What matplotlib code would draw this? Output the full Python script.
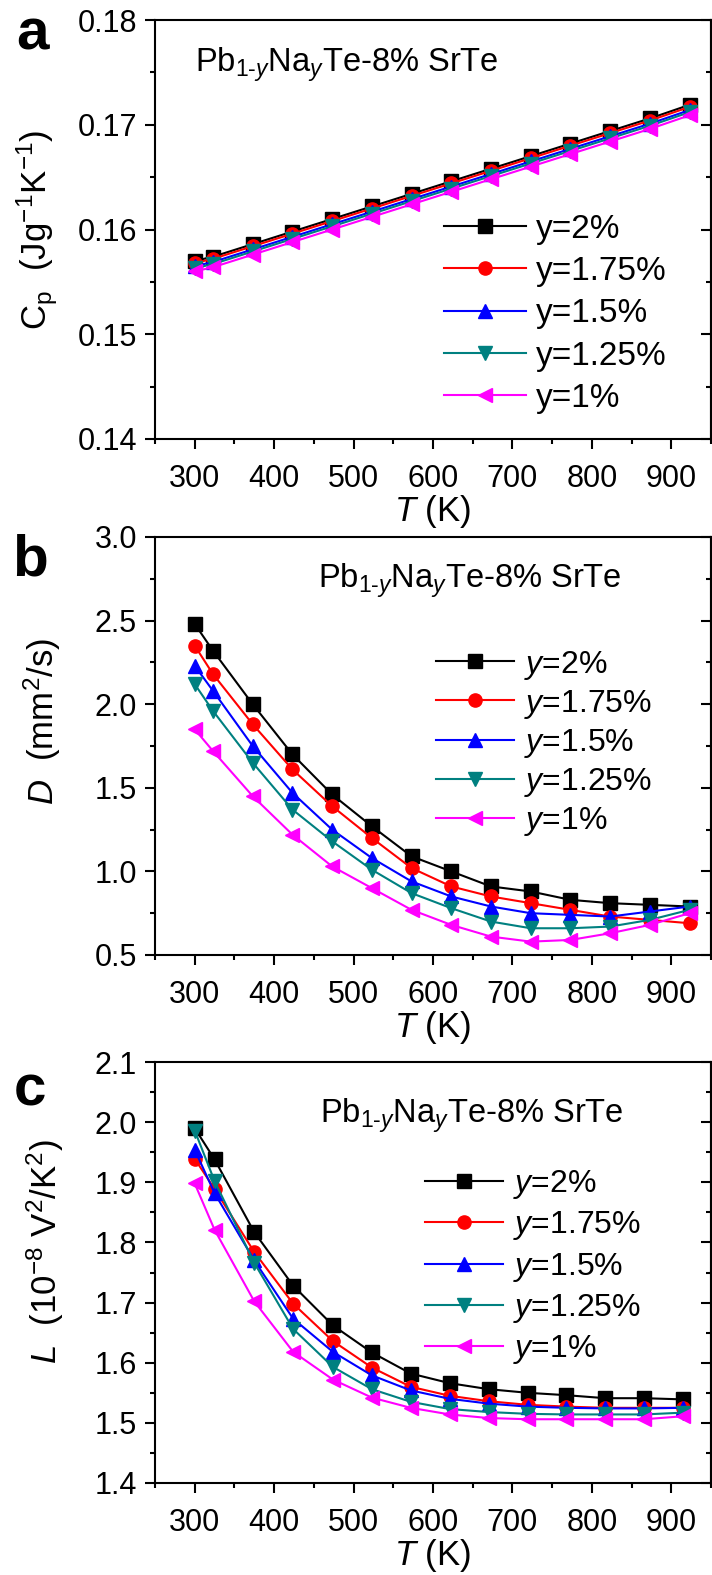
import matplotlib
matplotlib.use('Agg')
import matplotlib.pyplot as plt
from matplotlib.ticker import MultipleLocator

plt.rcParams['font.family'] = ['Liberation Sans', 'DejaVu Sans']
plt.rcParams['mathtext.fontset'] = 'custom'
plt.rcParams['mathtext.rm'] = 'Liberation Sans'
plt.rcParams['mathtext.it'] = 'Liberation Sans:italic'
plt.rcParams['mathtext.bf'] = 'Liberation Sans:bold'

# temperatures (K)
T_ab = [300, 323, 373, 423, 473, 523, 573, 623, 673, 723, 773, 823, 873, 923]
T_c = [300, 325, 375, 424, 474, 523, 572, 621, 670, 719, 768, 817, 866, 915]

labels = ['2%', '1.75%', '1.5%', '1.25%', '1%']
colors = ['black', '#FF0000', '#0000FF', '#008080', '#FF00FF']
markers = ['s', 'o', '^', 'v', '<']

# (a) heat capacity Cp (J/g/K)
cp_2 = [0.1570, 0.1574, 0.1586, 0.1598, 0.1610, 0.1622, 0.1634, 0.1646, 0.1658, 0.1670, 0.1682, 0.1694, 0.1706, 0.1719]
cp_175 = [0.1568, 0.1572, 0.1584, 0.1596, 0.1608, 0.1620, 0.1632, 0.1644, 0.1656, 0.1668, 0.1680, 0.1692, 0.1704, 0.1717]
cp_15 = [0.1565, 0.1569, 0.1581, 0.1593, 0.1605, 0.1617, 0.1629, 0.1641, 0.1653, 0.1665, 0.1677, 0.1689, 0.1701, 0.1714]
cp_125 = [0.1563, 0.1567, 0.1579, 0.1591, 0.1603, 0.1615, 0.1627, 0.1639, 0.1651, 0.1663, 0.1675, 0.1687, 0.1699, 0.1712]
cp_1 = [0.1560, 0.1564, 0.1576, 0.1588, 0.1600, 0.1612, 0.1624, 0.1636, 0.1648, 0.1660, 0.1672, 0.1684, 0.1696, 0.1709]

# (b) thermal diffusivity D (mm2/s)
d_2 = [2.48, 2.32, 2.00, 1.70, 1.46, 1.27, 1.09, 1.00, 0.91, 0.88, 0.83, 0.81, 0.80, 0.79]
d_175 = [2.35, 2.18, 1.88, 1.61, 1.39, 1.20, 1.02, 0.91, 0.85, 0.81, 0.77, 0.73, 0.71, 0.69]
d_15 = [2.23, 2.08, 1.75, 1.47, 1.25, 1.08, 0.94, 0.85, 0.79, 0.75, 0.74, 0.73, 0.76, 0.79]
d_125 = [2.12, 1.96, 1.65, 1.37, 1.18, 1.01, 0.87, 0.78, 0.70, 0.66, 0.66, 0.67, 0.71, 0.77]
d_1 = [1.85, 1.72, 1.45, 1.22, 1.03, 0.90, 0.77, 0.68, 0.61, 0.58, 0.59, 0.63, 0.68, 0.75]

# (c) Lorenz number L (1e-8 V2/K2)
l_2 = [1.990, 1.938, 1.817, 1.728, 1.662, 1.617, 1.582, 1.566, 1.556, 1.550, 1.546, 1.541, 1.541, 1.539]
l_175 = [1.939, 1.889, 1.784, 1.698, 1.636, 1.592, 1.560, 1.545, 1.536, 1.530, 1.527, 1.525, 1.525, 1.525]
l_15 = [1.954, 1.882, 1.770, 1.673, 1.618, 1.579, 1.554, 1.540, 1.532, 1.527, 1.525, 1.524, 1.524, 1.525]
l_125 = [1.986, 1.902, 1.766, 1.656, 1.593, 1.556, 1.535, 1.523, 1.518, 1.515, 1.514, 1.514, 1.514, 1.517]
l_1 = [1.898, 1.821, 1.702, 1.618, 1.572, 1.542, 1.525, 1.514, 1.508, 1.506, 1.506, 1.506, 1.506, 1.511]

W, H = 712, 1575
fig = plt.figure(figsize=(W / 100, H / 100), dpi=100)


def make_axes(top, bottom, left=155, right=711):
    return fig.add_axes([left / W, 1 - bottom / H, (right - left) / W, (bottom - top) / H])


def style_axes(ax, ylim, ymajor, yminor, yfmt):
    ax.set_xlim(250, 950)
    ax.set_ylim(*ylim)
    ax.xaxis.set_major_locator(MultipleLocator(100))
    ax.xaxis.set_minor_locator(MultipleLocator(50))
    ax.yaxis.set_major_locator(MultipleLocator(ymajor))
    ax.yaxis.set_minor_locator(MultipleLocator(yminor))
    ax.yaxis.set_major_formatter(plt.FormatStrFormatter(yfmt))
    ax.set_xticks(range(300, 901, 100))
    for s in ax.spines.values():
        s.set_linewidth(1.5)
    ax.tick_params(which='both', direction='out', width=1.5, labelsize=22, top=False, right=False)
    ax.tick_params(which='major', length=7)
    ax.tick_params(which='minor', length=3.6)
    ax.tick_params(axis='x', pad=11)
    ax.tick_params(axis='y', pad=6)
    # inward ticks on the right side
    sec = ax.secondary_yaxis('right')
    sec.yaxis.set_major_locator(MultipleLocator(ymajor))
    sec.yaxis.set_minor_locator(MultipleLocator(yminor))
    sec.tick_params(which='both', direction='in', width=1.5, labelright=False)
    sec.tick_params(which='major', length=7)
    sec.tick_params(which='minor', length=3.6)
    sec.spines['right'].set_linewidth(1.5)
    ax.set_xlabel('$T$ (K)', fontsize=25, labelpad=-1)


def plot_series(ax, x, series, italic):
    for vals, lab, c, m in zip(series, labels, colors, markers):
        name = ('$y$=' if italic else 'y=') + lab
        ax.plot(x, vals, color=c, marker=m, markersize=9.5, linewidth=1.5, label=name)


title = r'Pb$_{\mathregular{1}\text{-}y}$Na$_{y}$Te-8% SrTe'

# ---- panel a ----
ax_a = make_axes(20, 439)
plot_series(ax_a, T_ab, [cp_2, cp_175, cp_15, cp_125, cp_1], italic=False)
style_axes(ax_a, (0.14, 0.18), 0.01, 0.005, '%.2f')
ax_a.set_ylabel('C$_{\\mathregular{p}}$  (Jg$^{-1}$K$^{-1}$)', fontsize=25)
ax_a.yaxis.set_label_coords(-0.17, 0.5)
ax_a.text(0.072, 0.876, title, transform=ax_a.transAxes, fontsize=23.5, va='baseline')
ax_a.legend(loc='upper left', bbox_to_anchor=(0.52, 0.538), frameon=False, fontsize=24,
            handlelength=2.45, handletextpad=0.3, labelspacing=0.34, borderpad=0, borderaxespad=0)

# ---- panel b ----
ax_b = make_axes(537, 955)
plot_series(ax_b, T_ab, [d_2, d_175, d_15, d_125, d_1], italic=True)
style_axes(ax_b, (0.5, 3.0), 0.5, 0.25, '%.1f')
ax_b.set_ylabel('$D$  (mm$^2$/s)', fontsize=25)
ax_b.yaxis.set_label_coords(-0.165, 0.56)
ax_b.text(0.293, 0.878, title, transform=ax_b.transAxes, fontsize=23.5, va='baseline')
ax_b.legend(loc='upper left', bbox_to_anchor=(0.505, 0.733), frameon=False, fontsize=23,
            handlelength=2.45, handletextpad=0.3, labelspacing=0.19, borderpad=0, borderaxespad=0)

# ---- panel c ----
ax_c = make_axes(1062, 1483)
plot_series(ax_c, T_c, [l_2, l_175, l_15, l_125, l_1], italic=True)
style_axes(ax_c, (1.4, 2.1), 0.1, 0.05, '%.1f')
ax_c.set_ylabel('$L$  (10$^{-8}$ V$^2$/K$^2$)', fontsize=25)
ax_c.yaxis.set_label_coords(-0.16, 0.55)
ax_c.text(0.297, 0.855, title, transform=ax_c.transAxes, fontsize=23.5, va='baseline')
ax_c.legend(loc='upper left', bbox_to_anchor=(0.485, 0.748), frameon=False, fontsize=23,
            handlelength=2.45, handletextpad=0.3, labelspacing=0.26, borderpad=0, borderaxespad=0)

# panel letters
for letter, xp, yp in [('a', 16, 50), ('b', 12, 575), ('c', 14, 1105)]:
    fig.text(xp / W, 1 - yp / H, letter, fontsize=42, fontweight='bold', va='baseline')

fig.savefig('out.png', dpi=100)
